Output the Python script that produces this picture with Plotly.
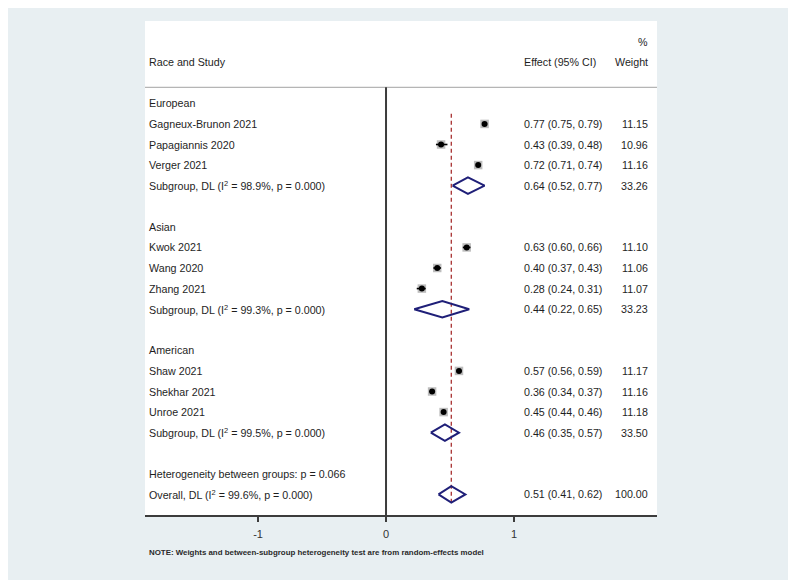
import plotly.graph_objects as go

# ---------------- data ----------------
row_labels = [
    "European", "Gagneux-Brunon 2021", "Papagiannis 2020", "Verger 2021",
    "Subgroup, DL (I<sup>2</sup> = 98.9%, p = 0.000)", "",
    "Asian", "Kwok 2021", "Wang 2020", "Zhang 2021",
    "Subgroup, DL (I<sup>2</sup> = 99.3%, p = 0.000)", "",
    "American", "Shaw 2021", "Shekhar 2021", "Unroe 2021",
    "Subgroup, DL (I<sup>2</sup> = 99.5%, p = 0.000)", "",
    "Heterogeneity between groups: p = 0.066",
    "Overall, DL (I<sup>2</sup> = 99.6%, p = 0.000)",
]

study_rows = [1, 2, 3, 7, 8, 9, 13, 14, 15]
study_est = [0.77, 0.43, 0.72, 0.63, 0.40, 0.28, 0.57, 0.36, 0.45]
study_lo = [0.75, 0.39, 0.71, 0.60, 0.37, 0.24, 0.56, 0.34, 0.44]
study_hi = [0.79, 0.48, 0.74, 0.66, 0.43, 0.31, 0.59, 0.37, 0.46]
study_wt = [11.15, 10.96, 11.16, 11.10, 11.06, 11.07, 11.17, 11.16, 11.18]

pool_rows = [4, 10, 16, 19]
pool_est = [0.64, 0.44, 0.46, 0.51]
pool_lo = [0.52, 0.22, 0.35, 0.41]
pool_hi = [0.77, 0.65, 0.57, 0.62]
pool_wt = [33.26, 33.23, 33.50, 100.00]

overall_effect = 0.51
tick_vals = [-1, 0, 1]
tick_text = ["-1", "0", "1"]
note = "NOTE: Weights and between-subgroup heterogeneity test are from random-effects model"

# ---------------- styling ----------------
BG = "#e8eff2"
FONT = "Liberation Sans, Arial, sans-serif"
TXT = "#1e1e1e"
NAVY = "#1f1f78"
XMIN, XMAX = -1.883, 2.117
X_LABEL = -1.868
X_EFFECT = 1.059
X_WEIGHT = 2.066
FS = 10.7

fig = go.Figure()

# study boxes
fig.add_trace(go.Scatter(
    x=study_est, y=study_rows, mode="markers",
    marker=dict(symbol="square", size=8.5, color="#bdbdbd", line=dict(width=0)),
    hoverinfo="skip", showlegend=False))

# CI lines
ci_x, ci_y = [], []
for r, lo, hi in zip(study_rows, study_lo, study_hi):
    ci_x += [lo, hi, None]
    ci_y += [r, r, None]
fig.add_trace(go.Scatter(
    x=ci_x, y=ci_y, mode="lines", line=dict(color="black", width=1.6),
    hoverinfo="skip", showlegend=False))

# point estimates
fig.add_trace(go.Scatter(
    x=study_est, y=study_rows, mode="markers",
    marker=dict(symbol="circle", size=6, color="black", line=dict(width=0)),
    hoverinfo="skip", showlegend=False))

# pooled diamonds
H = 0.4
dx, dy = [], []
for r, e, lo, hi in zip(pool_rows, pool_est, pool_lo, pool_hi):
    dx += [lo, e, hi, e, lo, None]
    dy += [r, r - H, r, r + H, r, None]
fig.add_trace(go.Scatter(
    x=dx, y=dy, mode="lines", line=dict(color=NAVY, width=2),
    hoverinfo="skip", showlegend=False))

# shapes: zero line, overall dashed line, header separator
fig.add_shape(type="line", xref="x", yref="y", x0=0, x1=0, y0=-0.78, y1=20,
              line=dict(color="#3c3c3c", width=2), layer="below")
fig.add_shape(type="line", xref="x", yref="y", x0=overall_effect, x1=overall_effect,
              y0=0.5, y1=19.4, line=dict(color="#a83232", width=1.3, dash="4px,3px"),
              layer="below")
fig.add_shape(type="line", xref="paper", yref="y", x0=0, x1=1, y0=-0.78, y1=-0.78,
              line=dict(color="#b5b5b5", width=1.2), layer="below")

# text annotations
def ann(x, y, text, anchor, xref="x", yref="y", size=FS, color=TXT):
    fig.add_annotation(x=x, y=y, xref=xref, yref=yref, text=text, showarrow=False,
                       xanchor=anchor, yanchor="middle",
                       font=dict(family=FONT, size=size, color=color))

ann(X_WEIGHT, -3, "%", "right")
ann(X_LABEL, -2, "Race and Study", "left")
ann(X_EFFECT, -2, "Effect (95% CI)", "left")
ann(X_WEIGHT, -2, "Weight", "right")

for i, lab in enumerate(row_labels):
    if lab:
        ann(X_LABEL, i, lab, "left")

for r, e, lo, hi, w in zip(study_rows + pool_rows, study_est + pool_est,
                           study_lo + pool_lo, study_hi + pool_hi, study_wt + pool_wt):
    ann(X_EFFECT, r, f"{e:.2f} ({lo:.2f}, {hi:.2f})", "left")
    ann(X_WEIGHT, r, f"{w:.2f}", "right")

fig.add_annotation(x=0.004, y=-0.075, xref="paper", yref="paper", text="<b>" + note + "</b>",
                   showarrow=False, xanchor="left", yanchor="middle",
                   font=dict(family=FONT, size=7.9, color="#2a2a2a"))

# the page body has an 8px margin, so the figure is offset by 8px
fig.update_layout(
    width=788, height=572,
    margin=dict(l=137, r=139, t=13, b=65),
    paper_bgcolor=BG, plot_bgcolor="white",
    xaxis=dict(range=[XMIN, XMAX], showgrid=False, zeroline=False,
               showline=True, linecolor="#3c3c3c", linewidth=1.5,
               ticks="outside", ticklen=5, tickwidth=1.5, tickcolor="#3c3c3c",
               tickvals=tick_vals, ticktext=tick_text, ticklabelstandoff=3,
               tickfont=dict(family=FONT, size=11, color="#333333"), fixedrange=True),
    yaxis=dict(range=[20, -4], visible=False, showgrid=False, zeroline=False, fixedrange=True),
    showlegend=False,
)

fig.write_html("out.html")
